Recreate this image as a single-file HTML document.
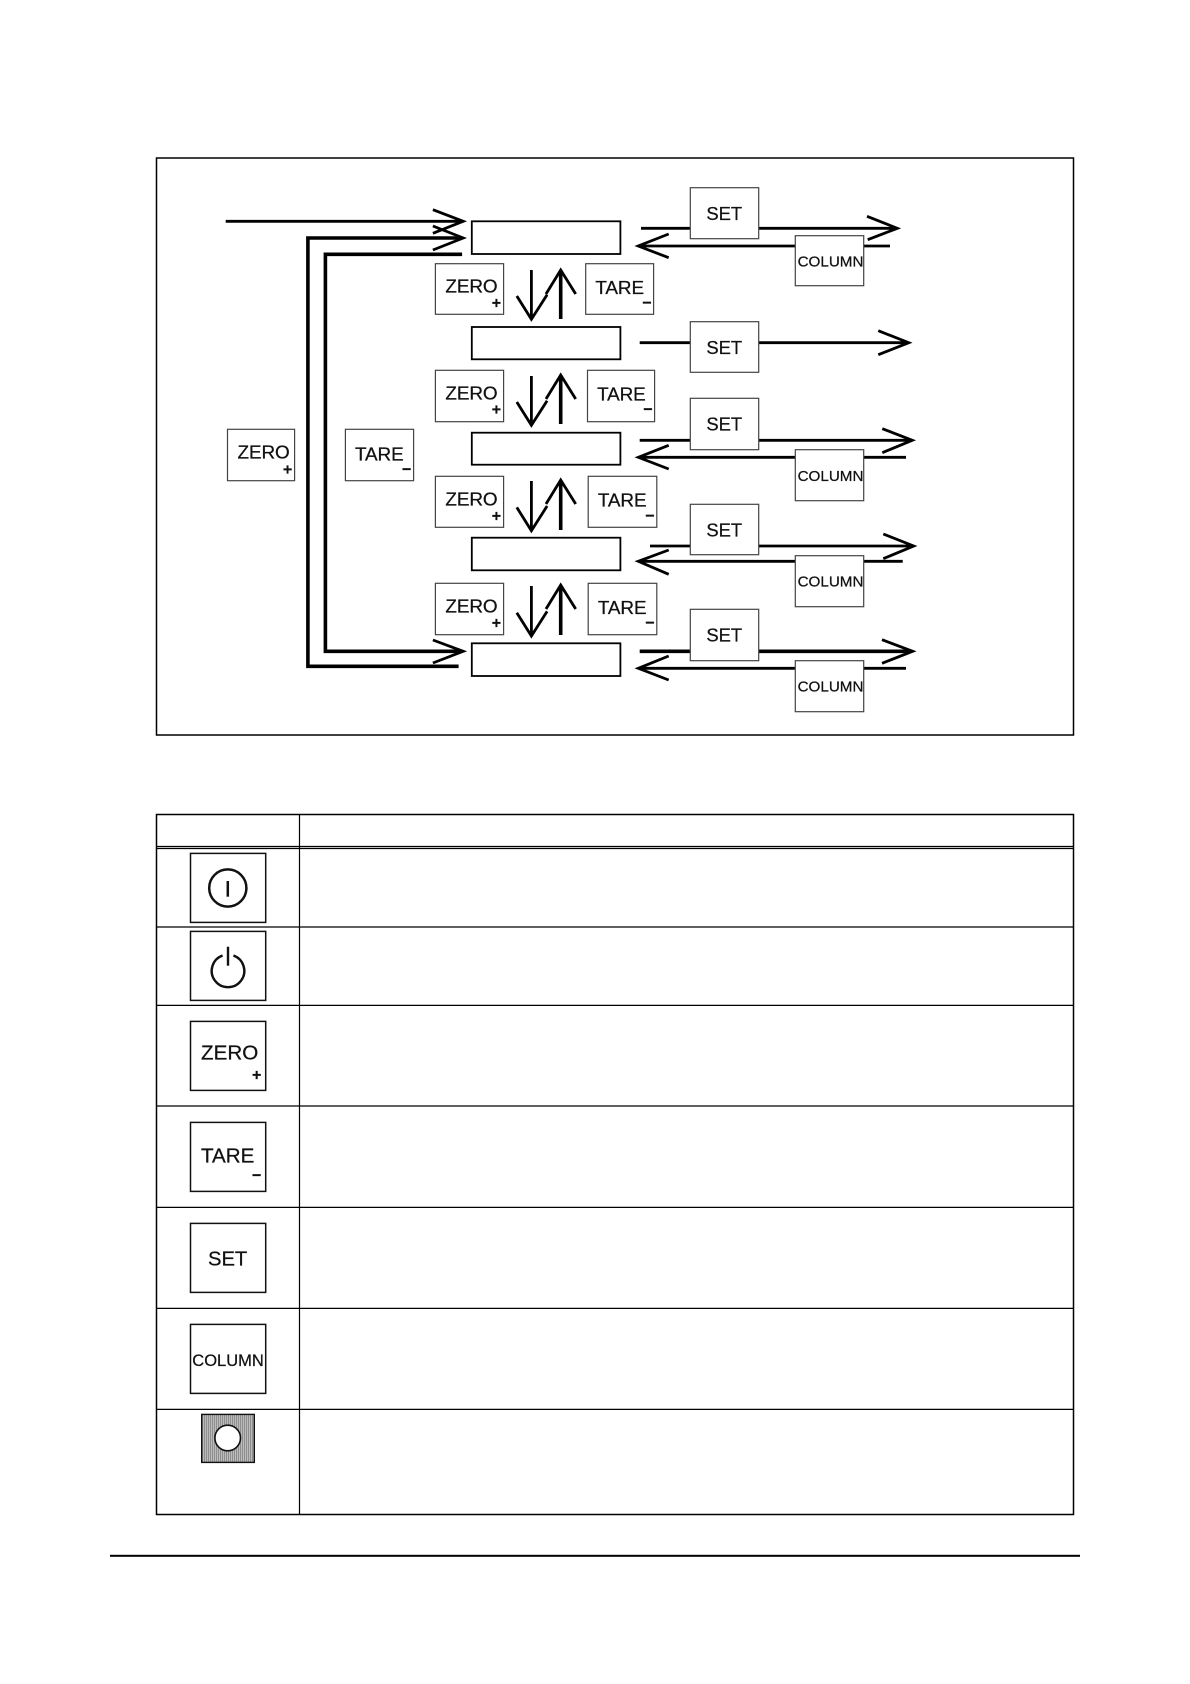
<!DOCTYPE html>
<html lang="en">
<head>
<meta charset="utf-8">
<title>Key operation diagram</title>
<style>
html,body{margin:0;padding:0;background:#fff;width:1190px;height:1684px;overflow:hidden}
svg{display:block}
text{font-family:"Liberation Sans",sans-serif;fill:#111;stroke:#111;stroke-width:.25}
.frame{fill:none;stroke:#000;stroke-width:1.5}
.disp{fill:#fff;stroke:#000;stroke-width:1.8}
.key{fill:#fff;stroke:#444;stroke-width:1.2}
.ikey{fill:#fff;stroke:#111;stroke-width:1.5}
.l{fill:none;stroke:#000;stroke-width:2.8}
.t{fill:none;stroke:#000;stroke-width:3.6}
.tl{fill:none;stroke:#000;stroke-width:1.2}
.z{font-size:18.9px;letter-spacing:-.1px}
.s{font-size:18.4px}
.c{font-size:15.2px}
.mk{font-size:16px;font-weight:bold;text-anchor:middle}
</style>
</head>
<body>
<svg width="1190" height="1684" viewBox="0 0 1190 1684" xmlns="http://www.w3.org/2000/svg">
<defs>
<pattern id="hatch" width="2" height="2" patternUnits="userSpaceOnUse">
<rect width="2" height="2" fill="#bcbcbc"/><rect width="1" height="2" fill="#8e8e8e"/>
</pattern>
</defs>

<!-- Diagram frame -->
<rect class="frame" x="156.5" y="158" width="917" height="577"/>

<!-- Left connectors -->
<path class="l" d="M225.7 221.3H462M432.9 209.7L463.2 221.3L432.9 233.3"/>
<path class="t" d="M458.6 666.3H307.9V238H462"/>
<path class="l" d="M432.9 226L463.2 238L432.9 250"/>
<path class="t" d="M462.1 254.3H325.4V651.3H462"/>
<path class="l" d="M432.9 640L463.2 651.3L432.9 663"/>

<!-- Display boxes -->
<rect class="disp" x="471.8" y="221.3" width="148.6" height="32.7"/>
<rect class="disp" x="471.8" y="327" width="148.6" height="32.3"/>
<rect class="disp" x="471.8" y="432.7" width="148.6" height="32"/>
<rect class="disp" x="471.8" y="537.7" width="148.6" height="32.6"/>
<rect class="disp" x="471.8" y="643.3" width="148.6" height="32.7"/>

<!-- Vertical arrow pairs -->
<path class="l" d="M531.4 270V318M516.8 296L531.4 319.3L547.1 294.7"/>
<path class="t" d="M560.7 319V272"/><path class="l" d="M546 294L560.7 270L575.7 294"/>
<path class="l" d="M531.4 376V424M516.8 402L531.4 425.3L547.1 400.7"/>
<path class="t" d="M560.7 424V377"/><path class="l" d="M546 399L560.7 375L575.7 399"/>
<path class="l" d="M531.4 481V529.5M516.8 507.4L531.4 530.7L547.1 506"/>
<path class="t" d="M560.7 530V482"/><path class="l" d="M546 504L560.7 480L575.7 504"/>
<path class="l" d="M531.4 586V634.7M516.8 612.7L531.4 636L547.1 611.4"/>
<path class="t" d="M560.7 635V587"/><path class="l" d="M546 609L560.7 585L575.7 609"/>

<!-- Right connectors -->
<path class="l" d="M641 228.3H896M867 216.3L897.3 228.3L867.7 239.7"/>
<path class="l" d="M890 246H640M668.7 234L638.3 246L668.7 257.7"/>
<path class="l" d="M639.7 342.7H907M878.3 330.7L908.7 342.7L878.3 354.7"/>
<path class="l" d="M639.7 440.3H911M882.3 428.7L912.3 440.3L882.3 452.7"/>
<path class="l" d="M906 457.3H640M668.7 445.3L638.3 457.3L668.7 469"/>
<path class="l" d="M650 546H912M883.3 534L913.7 546L883.3 558.7"/>
<path class="l" d="M902.7 561.3H640M668.7 550L638.3 561.3L668.7 574.3"/>
<path class="t" d="M639.7 651.3H911"/><path class="l" d="M882 639.7L912.7 651.3L882 663.3"/>
<path class="l" d="M906 668.3H640M668.7 656L638.3 668.3L668.7 680"/>

<!-- ZERO keys -->
<rect class="key" x="435.4" y="263.7" width="68.2" height="50.6"/>
<text class="z" x="445.4" y="292.7">ZERO</text><text class="mk" x="496.4" y="308">+</text>
<rect class="key" x="435.4" y="370.3" width="68.2" height="51.4"/>
<text class="z" x="445.4" y="399.3">ZERO</text><text class="mk" x="496.4" y="414.6">+</text>
<rect class="key" x="435.4" y="476.3" width="68.2" height="51"/>
<text class="z" x="445.4" y="505.3">ZERO</text><text class="mk" x="496.4" y="521">+</text>
<rect class="key" x="435.4" y="583.3" width="68.2" height="51.4"/>
<text class="z" x="445.4" y="612.7">ZERO</text><text class="mk" x="496.4" y="628">+</text>
<rect class="key" x="227.5" y="429.3" width="67.1" height="51.4"/>
<text class="z" x="237.5" y="458.3">ZERO</text><text class="mk" x="287.5" y="474.3">+</text>

<!-- TARE keys -->
<rect class="key" x="585.7" y="263.7" width="67.9" height="50.6"/>
<text class="z" x="595.4" y="294">TARE</text><text class="mk" x="647" y="308">−</text>
<rect class="key" x="587.5" y="370.3" width="67.1" height="51.4"/>
<text class="z" x="597.1" y="400.3">TARE</text><text class="mk" x="648" y="414.6">−</text>
<rect class="key" x="588.2" y="476.3" width="68.6" height="51"/>
<text class="z" x="597.9" y="506.7">TARE</text><text class="mk" x="650" y="521">−</text>
<rect class="key" x="588.2" y="583.3" width="68.6" height="51.4"/>
<text class="z" x="597.9" y="614">TARE</text><text class="mk" x="650" y="628">−</text>
<rect class="key" x="345.4" y="429.3" width="68.2" height="51.4"/>
<text class="z" x="355" y="460.7">TARE</text><text class="mk" x="406.7" y="474.3">−</text>

<!-- SET keys -->
<rect class="key" x="690.3" y="187.7" width="68.4" height="51"/>
<text class="s" x="706.4" y="220">SET</text>
<rect class="key" x="690.3" y="321.7" width="68.4" height="50.6"/>
<text class="s" x="706.4" y="354">SET</text>
<rect class="key" x="690.3" y="398.3" width="68.4" height="51.4"/>
<text class="s" x="706.4" y="430.6">SET</text>
<rect class="key" x="690.3" y="504.3" width="68.4" height="50.4"/>
<text class="s" x="706.4" y="536.6">SET</text>
<rect class="key" x="690.3" y="609.3" width="68.4" height="51.4"/>
<text class="s" x="706.4" y="641.6">SET</text>

<!-- COLUMN keys -->
<rect class="key" x="795.3" y="235.7" width="68.4" height="50"/>
<text class="c" x="797.6" y="266.7">COLUMN</text>
<rect class="key" x="795.3" y="449.7" width="68.4" height="51"/>
<text class="c" x="797.6" y="481">COLUMN</text>
<rect class="key" x="795.3" y="555.7" width="68.4" height="51"/>
<text class="c" x="797.6" y="586.7">COLUMN</text>
<rect class="key" x="795.3" y="660.7" width="68.4" height="51"/>
<text class="c" x="797.6" y="691.7">COLUMN</text>

<!-- Table -->
<rect class="frame" x="156.5" y="814.5" width="917" height="700"/>
<path class="tl" d="M299.5 814.5V1514.5"/>
<path class="tl" d="M156.5 846.5H1073.5M156.5 848.5H1073.5"/>
<path class="tl" d="M156.5 927H1073.5M156.5 1005.4H1073.5M156.5 1106H1073.5M156.5 1207.4H1073.5M156.5 1308.4H1073.5M156.5 1409.4H1073.5"/>

<!-- Table icons -->
<rect class="ikey" x="190.5" y="853.4" width="75.2" height="69"/>
<circle cx="227.8" cy="888" r="18.6" fill="none" stroke="#111" stroke-width="2.5"/>
<path d="M227.8 881V896.7" stroke="#111" stroke-width="2.5" fill="none"/>

<rect class="ikey" x="190.5" y="931.4" width="75.2" height="69"/>
<path d="M222.6 955.5A16.3 16.3 0 1 0 233.4 955.5" fill="none" stroke="#111" stroke-width="2.4"/>
<path d="M228 946.7V965.7" stroke="#111" stroke-width="2.4" fill="none"/>

<rect class="ikey" x="190.5" y="1021.4" width="75.2" height="69"/>
<text x="201" y="1059.3" style="font-size:20.6px">ZERO</text>
<text x="252" y="1080" style="font-size:16px;font-weight:bold">+</text>

<rect class="ikey" x="190.5" y="1122.4" width="75.2" height="69"/>
<text x="201" y="1162.3" style="font-size:20.6px">TARE</text>
<text x="252" y="1180.6" style="font-size:16px;font-weight:bold">−</text>

<rect class="ikey" x="190.5" y="1223.4" width="75.2" height="69"/>
<text x="208" y="1265.7" style="font-size:20.2px">SET</text>

<rect class="ikey" x="190.5" y="1324.4" width="75.2" height="69"/>
<text x="192.3" y="1366" style="font-size:16.5px">COLUMN</text>

<rect x="201.7" y="1414.4" width="52.6" height="48" fill="url(#hatch)" stroke="#111" stroke-width="1.4"/>
<circle cx="227.7" cy="1438" r="12.8" fill="#fff" stroke="#111" stroke-width="1.6"/>

<!-- Footer rule -->
<rect x="110" y="1554.8" width="970" height="2" fill="#000"/>
</svg>
</body>
</html>
